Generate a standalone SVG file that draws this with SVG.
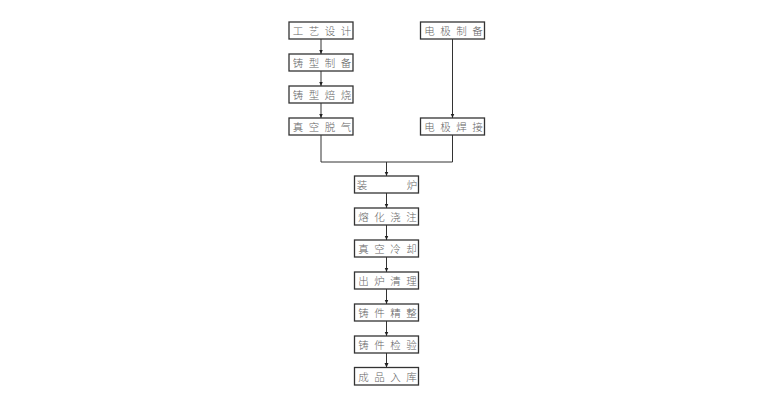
<svg xmlns="http://www.w3.org/2000/svg" width="770" height="400" viewBox="0 0 770 400">
<style>
.box{fill:#fff;stroke:#333;stroke-width:1.3}
.t{font-family:"Noto Sans CJK SC","Noto Sans CJK JP",sans-serif;font-size:10.5px;font-weight:300;fill:#666;text-anchor:middle}
.c{fill:none;stroke:#333;stroke-width:1}
</style>
<defs>
<marker id="ah" markerWidth="5" markerHeight="5" refX="4.5" refY="2.5" orient="auto" markerUnits="userSpaceOnUse">
<path d="M0,0.5 L4.5,2.5 L0,4.5 Z" fill="#222"/>
</marker>
</defs>
<rect width="770" height="400" fill="#fff"/>
<g id="connectors">
<line class="c" x1="321" y1="39" x2="321" y2="54" marker-end="url(#ah)"/>
<line class="c" x1="321" y1="71" x2="321" y2="86" marker-end="url(#ah)"/>
<line class="c" x1="321" y1="103" x2="321" y2="118" marker-end="url(#ah)"/>
<line class="c" x1="452.5" y1="39" x2="452.5" y2="118" marker-end="url(#ah)"/>
<polyline class="c" points="321,135 321,162 452.5,162 452.5,135"/>
<line class="c" x1="386.5" y1="162" x2="386.5" y2="176" marker-end="url(#ah)"/>
<line class="c" x1="386.5" y1="193" x2="386.5" y2="208" marker-end="url(#ah)"/>
<line class="c" x1="386.5" y1="225" x2="386.5" y2="240" marker-end="url(#ah)"/>
<line class="c" x1="386.5" y1="257" x2="386.5" y2="272" marker-end="url(#ah)"/>
<line class="c" x1="386.5" y1="289" x2="386.5" y2="304" marker-end="url(#ah)"/>
<line class="c" x1="386.5" y1="321" x2="386.5" y2="336" marker-end="url(#ah)"/>
<line class="c" x1="386.5" y1="353" x2="386.5" y2="367.5" marker-end="url(#ah)"/>
</g>
<g id="n1"><rect class="box" x="289" y="22" width="64" height="17"/><text class="t" x="298 314 330 346" y="34.5">工艺设计</text></g>
<g id="n2"><rect class="box" x="289" y="54" width="64" height="17"/><text class="t" x="298 314 330 346" y="66.5">铸型制备</text></g>
<g id="n3"><rect class="box" x="289" y="86" width="64" height="17"/><text class="t" x="298 314 330 346" y="98.5">铸型焙烧</text></g>
<g id="n4"><rect class="box" x="289" y="118" width="64" height="17"/><text class="t" x="298 314 330 346" y="130.5">真空脱气</text></g>
<g id="n5"><rect class="box" x="420.5" y="22" width="64" height="17"/><text class="t" x="429.5 445.5 461.5 477.5" y="34.5">电极制备</text></g>
<g id="n6"><rect class="box" x="420.5" y="118" width="64" height="17"/><text class="t" x="429.5 445.5 461.5 477.5" y="130.5">电极焊接</text></g>
<g id="n7"><rect class="box" x="354.5" y="176" width="64" height="17"/><text class="t" x="362 412" y="188.5">装炉</text></g>
<g id="n8"><rect class="box" x="354.5" y="208" width="64" height="17"/><text class="t" x="363.5 379.5 395.5 411.5" y="220.5">熔化浇注</text></g>
<g id="n9"><rect class="box" x="354.5" y="240" width="64" height="17"/><text class="t" x="363.5 379.5 395.5 411.5" y="252.5">真空冷却</text></g>
<g id="n10"><rect class="box" x="354.5" y="272" width="64" height="17"/><text class="t" x="363.5 379.5 395.5 411.5" y="284.5">出炉清理</text></g>
<g id="n11"><rect class="box" x="354.5" y="304" width="64" height="17"/><text class="t" x="363.5 379.5 395.5 411.5" y="316.5">铸件精整</text></g>
<g id="n12"><rect class="box" x="354.5" y="336" width="64" height="17"/><text class="t" x="363.5 379.5 395.5 411.5" y="348.5">铸件检验</text></g>
<g id="n13"><rect class="box" x="354.5" y="367.5" width="64" height="17.5"/><text class="t" x="363.5 379.5 395.5 411.5" y="380.5">成品入库</text></g>
</svg>
